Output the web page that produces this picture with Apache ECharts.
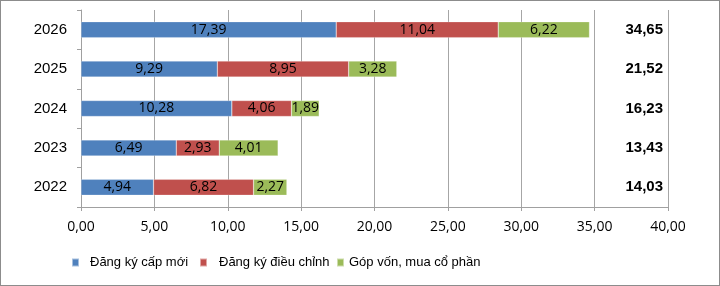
<!DOCTYPE html>
<html>
<head>
<meta charset="utf-8">
<script src="https://cdn.jsdelivr.net/npm/echarts@6/dist/echarts.min.js"></script>
<style>
  html, body { margin: 0; padding: 0; background: #fff; }
  #main { width: 718px; height: 284px; border: 1px solid #8c8c8c; }
</style>
</head>
<body>
<div id="main"></div>
<script>
// dữ liệu theo năm
const years = ['2022', '2023', '2024', '2025', '2026'];
const capMoi = [4.94, 6.49, 10.28, 9.29, 17.39];
const dieuChinh = [6.82, 2.93, 4.06, 8.95, 11.04];
const gopVon = [2.27, 4.01, 1.89, 3.28, 6.22];
const xTicks = [0, 5, 10, 15, 20, 25, 30, 35, 40];
const seriesNames = ['Đăng ký cấp mới', 'Đăng ký điều chỉnh', 'Góp vốn, mua cổ phần'];

const fmt = v => v.toFixed(2).replace('.', ',');
const totals = years.map((y, i) => fmt(capMoi[i] + dieuChinh[i] + gopVon[i]));

const chart = echarts.init(document.getElementById('main'));

const barLabel = {
  show: true,
  position: 'inside',
  color: '#000',
  fontFamily: 'Open Sans',
  fontSize: 14,
  formatter: p => fmt(p.value)
};

function mkSeries(name, data, color) {
  return {
    name: name,
    type: 'bar',
    stack: 'total',
    data: data,
    barWidth: 16,
    itemStyle: { color: color, borderColor: 'rgba(255,255,255,0.5)', borderWidth: 0.5 },
    label: barLabel
  };
}

// mỗi mục chú thích đặt riêng để giữ khoảng cách như hình gốc
function mkLegend(name, left, gap) {
  return {
    data: [name],
    bottom: 11,
    left: left,
    itemWidth: 7,
    itemHeight: 8,
    icon: 'rect',
    textStyle: {
      fontFamily: 'Liberation Sans',
      fontSize: 13,
      color: '#000',
      padding: [0, 0, 0, gap]
    }
  };
}

const option = {
  animation: false,
  grid: { left: 80, right: 51, top: 9, bottom: 78 },
  legend: [
    mkLegend(seriesNames[0], 65, 6),
    mkLegend(seriesNames[1], 193, 7),
    mkLegend(seriesNames[2], 330, 0)
  ],
  xAxis: {
    type: 'value',
    min: xTicks[0],
    max: xTicks[xTicks.length - 1],
    interval: xTicks[1] - xTicks[0],
    axisLine: { show: true, lineStyle: { color: '#a0a0a0' } },
    axisTick: { show: true, length: 4, lineStyle: { color: '#a0a0a0' } },
    splitLine: { show: true, lineStyle: { color: '#a6a6a6' } },
    axisLabel: {
      formatter: v => fmt(v),
      fontFamily: 'Open Sans',
      fontSize: 14,
      color: '#000',
      margin: 13
    }
  },
  yAxis: [
    {
      type: 'category',
      data: years,
      axisLine: { show: true, lineStyle: { color: '#a0a0a0' } },
      axisTick: { show: true, length: 4, lineStyle: { color: '#a0a0a0' } },
      axisLabel: { fontFamily: 'Liberation Sans', fontSize: 15, color: '#000', margin: 14 }
    },
    {
      type: 'category',
      data: totals,
      position: 'right',
      axisLine: { show: false },
      axisTick: { show: false },
      axisLabel: {
        inside: true,
        margin: 5,
        fontFamily: 'Liberation Sans',
        fontWeight: 'bold',
        fontSize: 15,
        color: '#000',
        padding: [7, 0, 0, 0]
      }
    }
  ],
  series: [
    mkSeries(seriesNames[0], capMoi, '#4f81bd'),
    mkSeries(seriesNames[1], dieuChinh, '#c0504d'),
    mkSeries(seriesNames[2], gopVon, '#9bbb59')
  ]
};

chart.setOption(option);
</script>
</body>
</html>
